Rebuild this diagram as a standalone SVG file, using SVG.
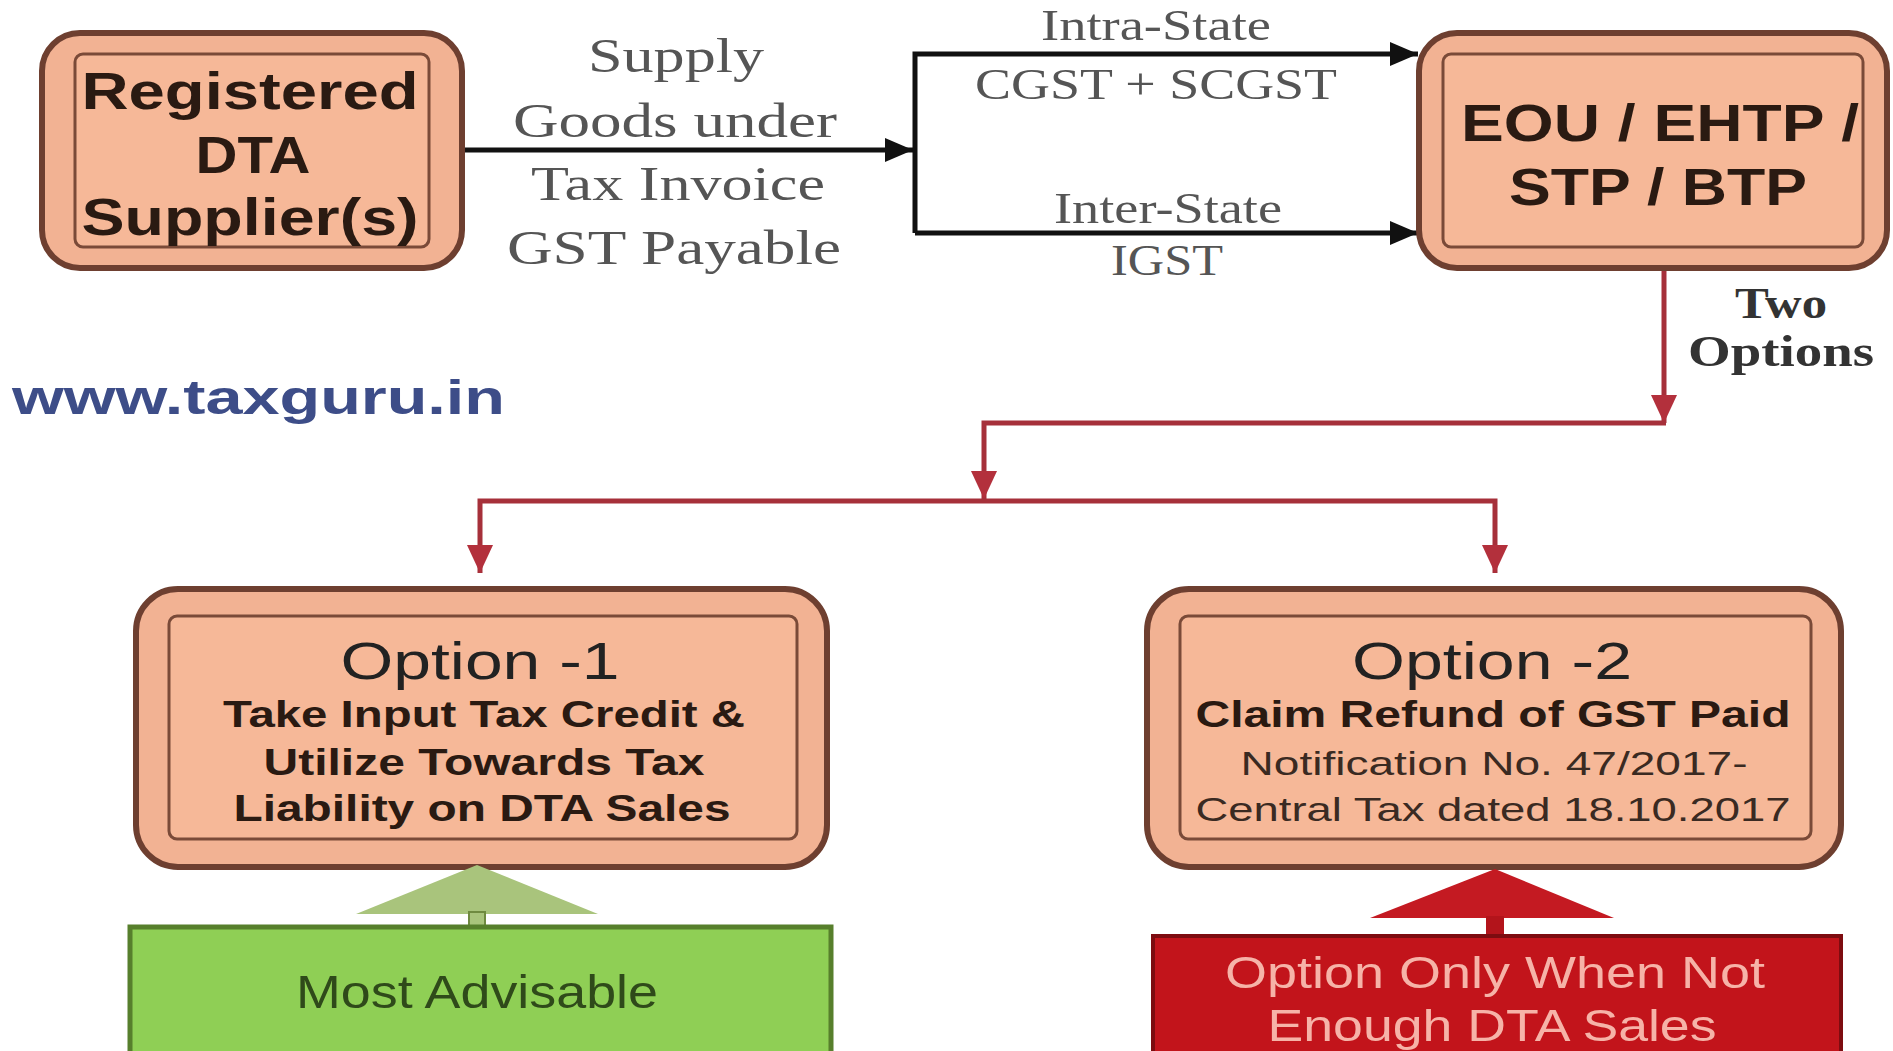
<svg xmlns="http://www.w3.org/2000/svg" width="1893" height="1051" viewBox="0 0 1893 1051">
<style>
.outer{fill:#f2b293;stroke:#6e3f30;stroke-width:6}
.inner{fill:#f6b898;stroke:#7a4a38;stroke-width:3}
.sans{font-family:"Liberation Sans",Arial,sans-serif;text-anchor:middle}
.serif{font-family:"Liberation Serif","Times New Roman",serif;text-anchor:middle;fill:#555}
.big{font-size:52px;font-weight:bold;fill:#2a1a12}
.opt{font-size:52px;fill:#222}
.sub{font-size:36px;font-weight:bold;fill:#2a1a12}
.note{font-size:34px;fill:#3a2a22}
.lbl{font-size:48px}
.blk{fill:none;stroke:#111;stroke-width:5}
.red{fill:none;stroke:#a6303a;stroke-width:5}
</style>
<defs>
<marker id="ab" markerUnits="userSpaceOnUse" markerWidth="28" markerHeight="24" refX="28" refY="12" orient="auto-start-reverse"><path d="M0,0 L28,12 L0,24 z" fill="#111"/></marker>
<marker id="ar" markerUnits="userSpaceOnUse" markerWidth="28" markerHeight="26" refX="28" refY="13" orient="auto-start-reverse"><path d="M0,0 L28,13 L0,26 z" fill="#b3303c"/></marker>
</defs>
<rect width="1893" height="1051" fill="#fff"/>

<g id="connectors">
<path class="blk" d="M462,150 H913" marker-end="url(#ab)"/>
<path class="blk" d="M915,233 V54 H1418" marker-end="url(#ab)"/>
<path class="blk" d="M915,233 H1418" marker-end="url(#ab)"/>
<path class="red" d="M1664,268 V423" marker-end="url(#ar)"/>
<path class="red" d="M1666,423 H984 V499" marker-end="url(#ar)"/>
<path class="red" d="M480,573 V501 H1495 V573" marker-start="url(#ar)" marker-end="url(#ar)"/>
</g>

<g id="edge-labels">
<text class="serif lbl" x="676" y="72" textLength="176" lengthAdjust="spacingAndGlyphs">Supply</text>
<text class="serif lbl" x="675" y="137" textLength="324" lengthAdjust="spacingAndGlyphs">Goods under</text>
<text class="serif lbl" x="678" y="200" textLength="294" lengthAdjust="spacingAndGlyphs">Tax Invoice</text>
<text class="serif lbl" x="674" y="264" textLength="334" lengthAdjust="spacingAndGlyphs">GST Payable</text>
<text class="serif" font-size="44" x="1156" y="40" textLength="230" lengthAdjust="spacingAndGlyphs">Intra-State</text>
<text class="serif" font-size="44" x="1156" y="99" textLength="362" lengthAdjust="spacingAndGlyphs">CGST + SCGST</text>
<text class="serif" font-size="44" x="1168" y="223" textLength="228" lengthAdjust="spacingAndGlyphs">Inter-State</text>
<text class="serif" font-size="44" x="1167" y="275" textLength="112" lengthAdjust="spacingAndGlyphs">IGST</text>
<text class="serif" font-size="44" font-weight="bold" fill="#333" style="fill:#333" x="1781" y="318" textLength="92" lengthAdjust="spacingAndGlyphs">Two</text>
<text class="serif" font-size="44" font-weight="bold" style="fill:#333" x="1781" y="366" textLength="186" lengthAdjust="spacingAndGlyphs">Options</text>
</g>

<g id="watermark">
<text x="12" y="414" font-family="Liberation Sans,Arial,sans-serif" font-size="48" font-weight="bold" fill="#3d4d88" textLength="493" lengthAdjust="spacingAndGlyphs">www.taxguru.in</text>
</g>

<g id="node-supplier">
<rect class="outer" x="42" y="33" width="420" height="235" rx="38"/>
<rect class="inner" x="75" y="54" width="354" height="193" rx="8"/>
<text class="sans big" x="250" y="109" textLength="337" lengthAdjust="spacingAndGlyphs">Registered</text>
<text class="sans big" x="253" y="173" textLength="115" lengthAdjust="spacingAndGlyphs">DTA</text>
<text class="sans big" x="250" y="235" textLength="337" lengthAdjust="spacingAndGlyphs">Supplier(s)</text>
</g>

<g id="node-eou">
<rect class="outer" x="1419" y="33" width="468" height="235" rx="38"/>
<rect class="inner" x="1443" y="54" width="420" height="193" rx="8"/>
<text class="sans big" x="1660" y="141" textLength="398" lengthAdjust="spacingAndGlyphs">EOU / EHTP /</text>
<text class="sans big" x="1658" y="205" textLength="298" lengthAdjust="spacingAndGlyphs">STP / BTP</text>
</g>

<g id="node-option1">
<rect class="outer" x="136" y="589" width="691" height="278" rx="42"/>
<rect class="inner" x="169" y="616" width="628" height="223" rx="8"/>
<text class="sans opt" x="480" y="679" textLength="279" lengthAdjust="spacingAndGlyphs">Option -1</text>
<text class="sans sub" x="484" y="727" textLength="522" lengthAdjust="spacingAndGlyphs">Take Input Tax Credit &amp;</text>
<text class="sans sub" x="484" y="775" textLength="441" lengthAdjust="spacingAndGlyphs">Utilize Towards Tax</text>
<text class="sans sub" x="482" y="821" textLength="497" lengthAdjust="spacingAndGlyphs">Liability on DTA Sales</text>
</g>

<g id="node-option2">
<rect class="outer" x="1147" y="589" width="694" height="278" rx="42"/>
<rect class="inner" x="1180" y="616" width="631" height="223" rx="8"/>
<text class="sans opt" x="1492" y="679" textLength="280" lengthAdjust="spacingAndGlyphs">Option -2</text>
<text class="sans sub" x="1493" y="727" textLength="595" lengthAdjust="spacingAndGlyphs">Claim Refund of GST Paid</text>
<text class="sans note" x="1494" y="775" textLength="507" lengthAdjust="spacingAndGlyphs">Notification No. 47/2017-</text>
<text class="sans note" x="1493" y="821" textLength="595" lengthAdjust="spacingAndGlyphs">Central Tax dated 18.10.2017</text>
</g>

<g id="node-advisable">
<path d="M477,865 L598,914 L356,914 z" fill="#a9c47c"/>
<rect x="469" y="912" width="16" height="18" fill="#a9c47c" stroke="#6f8a40" stroke-width="2"/>
<rect x="130" y="927" width="701" height="130" fill="#8fcf55" stroke="#577f2c" stroke-width="5"/>
<text class="sans" font-size="46" fill="#2f4a1a" x="477" y="1008" textLength="362" lengthAdjust="spacingAndGlyphs">Most Advisable</text>
</g>

<g id="node-only-when">
<path d="M1495,869 L1614,918 L1370,918 z" fill="#c41a22"/>
<rect x="1486" y="916" width="18" height="22" fill="#b3141b"/>
<rect x="1153" y="936" width="688" height="120" fill="#c2141b" stroke="#7d0c10" stroke-width="4"/>
<text class="sans" font-size="44" fill="#f6b3a8" x="1495" y="988" textLength="540" lengthAdjust="spacingAndGlyphs">Option Only When Not</text>
<text class="sans" font-size="44" fill="#f6b3a8" x="1492" y="1041" textLength="449" lengthAdjust="spacingAndGlyphs">Enough DTA Sales</text>
</g>
</svg>
